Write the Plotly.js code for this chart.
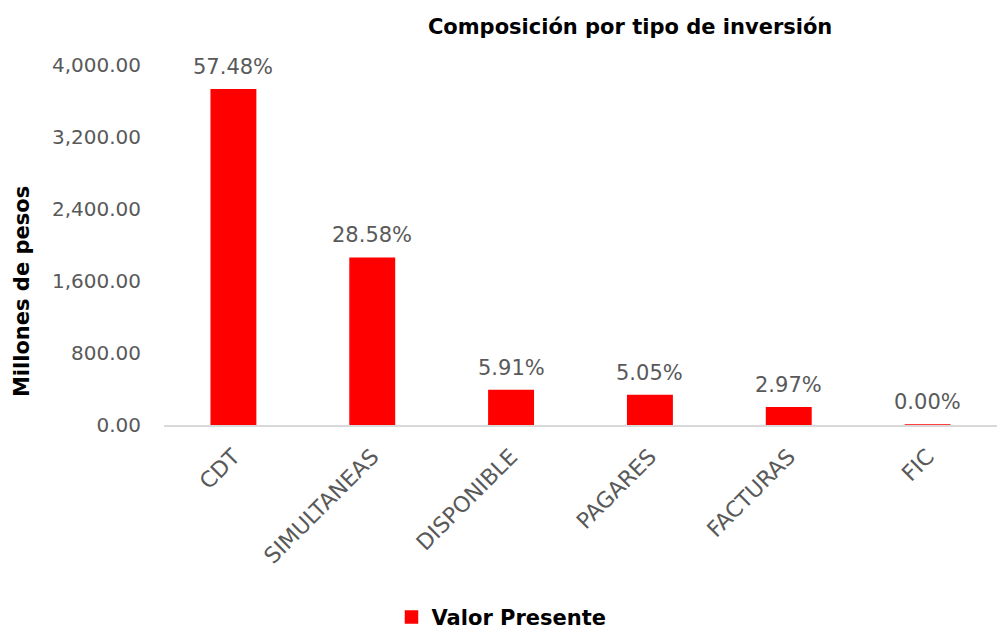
<!DOCTYPE html>
<html>
<head>
<meta charset="utf-8">
<script src="https://cdn.plot.ly/plotly-3.0.1.min.js"></script>
<style>html,body{margin:0;padding:0;background:#fff;}#chart{width:997px;height:630px;}</style>
</head>
<body>
<div id="chart"></div>
<script>
const categories = ["CDT", "SIMULTANEAS", "DISPONIBLE", "PAGARES", "FACTURAS", "FIC"];
const valorPresente = [3725, 1852, 383, 327, 192, 0.3];
const percentLabels = ["57.48%", "28.58%", "5.91%", "5.05%", "2.97%", "0.00%"];
const yTicks = [0, 800, 1600, 2400, 3200, 4000];
const seriesName = "Valor Presente";
const chartTitle = "Composición por tipo de inversión";
const yTitle = "Millones de pesos";

const FONT = "DejaVu Sans, Noto Sans, sans-serif";
const GRAY = "#595959";

const trace = {
  type: "bar",
  x: categories,
  y: valorPresente,
  name: "<b>" + seriesName + "</b>",
  marker: {color: "#FF0000", line: {color: "#FF0000", width: 1.5}},
  showlegend: true,
  hoverinfo: "x+y"
};

const annotations = categories.map((c, i) => ({
  x: c, y: valorPresente[i], xref: "x", yref: "y",
  text: percentLabels[i], showarrow: false,
  yanchor: "bottom", yshift: 9,
  font: {family: FONT, size: 21, color: GRAY}
}));

annotations.push({
  xref: "paper", yref: "paper",
  x: -0.1705, y: 0.372, xanchor: "center", yanchor: "middle",
  textangle: -90, showarrow: false,
  text: "<b>" + yTitle + "</b>",
  font: {family: FONT, size: 21, color: "#000000"}
});

const layout = {
  width: 997, height: 630,
  margin: {l: 164, r: 0, t: 65, b: 205, pad: 0},
  paper_bgcolor: "#ffffff", plot_bgcolor: "#ffffff",
  font: {family: FONT, color: GRAY},
  title: {
    text: "<b>" + chartTitle + "</b>",
    font: {family: FONT, size: 21, color: "#000000"},
    xref: "container", yref: "container",
    x: 0.632, xanchor: "center", y: 0.957, yanchor: "middle"
  },
  bargap: 0.68,
  xaxis: {
    type: "category",
    showline: true, linecolor: "#d9d9d9", linewidth: 2,
    showgrid: false, zeroline: false, ticks: "",
    tickangle: -45,
    tickfont: {family: FONT, size: 22, color: GRAY},
    ticklabelstandoff: 8
  },
  yaxis: {
    range: [0, 4000],
    tickvals: yTicks,
    tickformat: ",.2f",
    showgrid: false, zeroline: false, showline: false, ticks: "",
    tickfont: {family: FONT, size: 20, color: GRAY},
    ticklabelstandoff: 22
  },
  legend: {
    orientation: "h",
    xref: "container", yref: "container",
    x: 0.503, xanchor: "center", y: 0.02, yanchor: "middle",
    font: {family: FONT, size: 21, color: "#000000"},
    itemclick: false
  },
  annotations: annotations
};

Plotly.newPlot("chart", [trace], layout, {displayModeBar: false, staticPlot: true});
</script>
</body>
</html>
